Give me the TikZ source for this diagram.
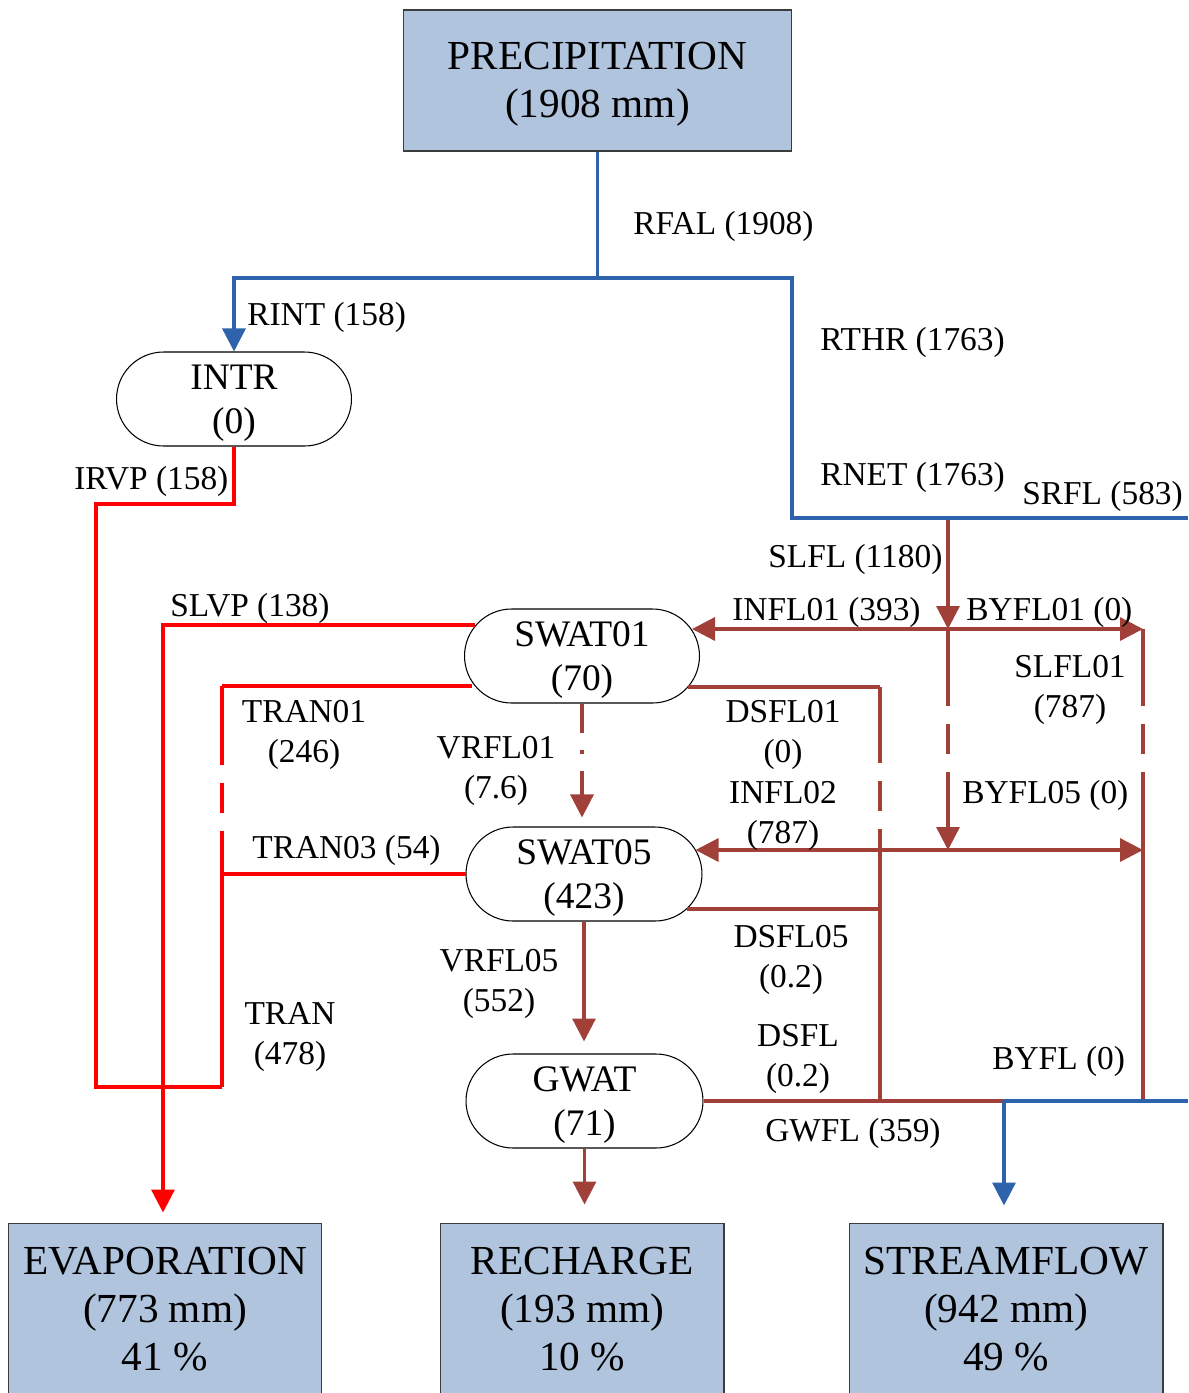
\documentclass[tikz,border=0pt]{standalone}
\usepackage{fontspec}
\setmainfont{Liberation Serif}
\usetikzlibrary{calc, arrows.meta}

\definecolor{RainBlue}{RGB}{46,99,172}
\definecolor{FlowBrown}{RGB}{160,64,56}
\definecolor{BoxFill}{RGB}{176,196,222}
\definecolor{BoxLine}{RGB}{60,60,60}

\newcommand{\storestrut}{\rule{0pt}{18.7pt}}
\newcommand{\boxstrut}{\rule{0pt}{20.1pt}}

\begin{document}
\begin{tikzpicture}
[
    x = 0.02cm, y = -0.02cm,  % one unit = one pixel, y runs down
    >={Triangle[length=4.6mm, width=4.6mm]},
    RainStyle/.style = {draw=RainBlue, line width=1.9pt},
    FlowStyle/.style = {draw=FlowBrown, line width=1.9pt},
    EvapStyle/.style = {draw=red, line width=1.9pt},
    LayerGap/.style  = {dash pattern=on #1 off 3.6mm on 6mm off 3.6mm on 20cm off 1cm}
  ]

  \tikzset{BoxStyle/.style   = {shape        = rectangle,
                                 draw         = BoxLine,
                                 fill         = BoxFill,
                                 line width   = 0.6pt,
                                 align        = center,
                                 inner sep    = 0pt,
                                 font         = \fontsize{23.5}{27.3}\selectfont},
           StoreStyle/.style = {shape        = rectangle,
                                 draw,
                                 fill         = white,
                                 rounded corners = 0.94cm,
                                 minimum width  = 4.7cm,
                                 minimum height = 1.88cm,
                                 line width   = 0.6pt,
                                 align        = center,
                                 inner sep    = 0pt,
                                 font         = \fontsize{21.3}{25}\selectfont},
           LabelStyle/.style = {inner sep    = 0pt,
                                 align        = center,
                                 font         = \fontsize{19}{22.8}\selectfont}}

  \useasboundingbox (0,0) rectangle (1188,1393);
  \clip (0,0) rectangle (1188,1393);

  % boxes and stores
  \node[BoxStyle, minimum width=7.78cm, minimum height=2.82cm] (prec) at (597.5,80.5) {\boxstrut PRECIPITATION\\(1908 mm)};
  \node[StoreStyle] (intr) at (234,399) {\storestrut INTR\\(0)};
  \node[StoreStyle] (swat01) at (582,656) {\storestrut SWAT01\\(70)};
  \node[StoreStyle, minimum width=4.72cm] (swat05) at (584,874) {\storestrut SWAT05\\(423)};
  \node[StoreStyle, minimum width=4.74cm] (gwat) at (584.5,1101) {\storestrut GWAT\\(71)};
  \node[BoxStyle, minimum width=6.28cm, minimum height=3.44cm] (evap) at (165,1309) {EVAPORATION\\(773 mm)\\41 \%};
  \node[BoxStyle, minimum width=5.68cm, minimum height=3.44cm] (rech) at (582,1309) {RECHARGE\\(193 mm)\\10 \%};
  \node[BoxStyle, minimum width=6.28cm, minimum height=3.44cm] (strm) at (1006,1309) {STREAMFLOW\\(942 mm)\\49 \%};

  % junctions
  \coordinate (rf) at (597.5,278);
  \coordinate (th) at (792,518);
  \coordinate (sr) at (1188,518);
  \coordinate (ir) at (96,504);
  \coordinate (sv) at (163,625);
  \coordinate (tr0) at (222,686);
  \coordinate (tr1) at (222,1087);
  \coordinate (sl0) at (948,520);
  \coordinate (sl1) at (948,629);
  \coordinate (sl2) at (948,850);
  \coordinate (by1) at (1143,629);
  \coordinate (by5) at (1143,850);
  \coordinate (by2) at (1143,1101);
  \coordinate (ds1) at (880,687);
  \coordinate (ds5) at (880,909);
  \coordinate (ds2) at (880,1101);
  \coordinate (gw) at (1004,1101);
  \coordinate (gwe) at (1188,1101);

  % rainfall
  \draw[RainStyle] (prec.south) -- (rf);
  \draw[RainStyle, ->] (rf) -| (intr.north);
  \draw[RainStyle] (rf) -| (th) -- (sr);

  % evaporation
  \draw[EvapStyle] (intr.south) |- (ir) -- (ir |- tr1) -- (tr1);
  \draw[EvapStyle, ->, shorten >=2mm] ($(swat01.west)+(11,-31)$) -- (sv) -- (sv |- evap.north);
  \draw[EvapStyle] ($(swat01.west)+(8,30)$) -- (tr0);
  \draw[EvapStyle, LayerGap=1.58cm] (tr0) -- (tr1);
  \draw[EvapStyle] (swat05.west) -- (swat05.west -| tr0);

  % soil and groundwater
  \draw[FlowStyle, ->] (sl0) -- (sl1);
  \draw[FlowStyle, ->, LayerGap=1.54cm] (sl1) -- (sl2);
  \draw[FlowStyle, <->] ($(swat01.east)+(-8,-27)$) -- (by1);
  \draw[FlowStyle, LayerGap=1.54cm] (by1) -- (by2);
  \draw[FlowStyle, <->] ($(swat05.east)+(-7,-24)$) -- (by5);
  \draw[FlowStyle] ($(swat01.east)+(-12,31)$) -- (ds1);
  \draw[FlowStyle, LayerGap=1.52cm] (ds1) -- (ds2);
  \draw[FlowStyle] ($(swat05.east)+(-16,35)$) -- (ds5);
  \draw[FlowStyle, ->, shorten >=1.8mm,
        dash pattern=on 5.8mm off 3.4mm on 0.8mm off 3.4mm on 20cm off 1cm]
        (swat01.south) -- (swat01.south |- swat05.north);
  \draw[FlowStyle, ->, shorten >=2.4mm] (swat05.south) -- (swat05.south |- gwat.north);
  \draw[FlowStyle, ->, shorten >=3.6mm] (gwat.south) -- (gwat.south |- rech.north);
  \draw[FlowStyle] (gwat.east) -- (gw);
  \draw[RainStyle] (gw) -- (gwe);
  \draw[RainStyle, ->, shorten >=3.4mm] (gw) -- (gw |- strm.north);

  % flux labels
  \node[LabelStyle, anchor=west] (rfal) at (633,226) {RFAL (1908)};
  \node[LabelStyle, anchor=west] (rint) at (247,317) {RINT (158)};
  \node[LabelStyle, anchor=west] (rthr) at (820,342) {RTHR (1763)};
  \node[LabelStyle, anchor=west] (rnet) at (820,477) {RNET (1763)};
  \node[LabelStyle, anchor=west] (srfl) at (1022,496) {SRFL (583)};
  \node[LabelStyle, anchor=west] (irvp) at (74,481) {IRVP (158)};
  \node[LabelStyle, anchor=west] (slfl) at (768,559) {SLFL (1180)};
  \node[LabelStyle, anchor=west] (slvp) at (170,608) {SLVP (138)};
  \node[LabelStyle, anchor=west] (infl01) at (732,612) {INFL01 (393)};
  \node[LabelStyle, anchor=west] (byfl01) at (966,612) {BYFL01 (0)};
  \node[LabelStyle] (slfl01) at (1070,690) {SLFL01\\(787)};
  \node[LabelStyle] (tran01) at (304,735) {TRAN01\\(246)};
  \node[LabelStyle] (dsfl01) at (783,735) {DSFL01\\(0)};
  \node[LabelStyle] (vrfl01) at (496,771) {VRFL01\\(7.6)};
  \node[LabelStyle] (infl02) at (783,816) {INFL02\\(787)};
  \node[LabelStyle, anchor=west] (byfl05) at (962,795) {BYFL05 (0)};
  \node[LabelStyle, anchor=west] (tran03) at (252,850) {TRAN03 (54)};
  \node[LabelStyle] (dsfl05) at (791,960) {DSFL05\\(0.2)};
  \node[LabelStyle] (vrfl05) at (499,984) {VRFL05\\(552)};
  \node[LabelStyle] (tran) at (290,1037) {TRAN\\(478)};
  \node[LabelStyle] (dsfl) at (798,1059) {DSFL\\(0.2)};
  \node[LabelStyle, anchor=west] (byfl) at (992,1061) {BYFL (0)};
  \node[LabelStyle, anchor=west] (gwfl) at (765,1133) {GWFL (359)};
\end{tikzpicture}
\end{document}
